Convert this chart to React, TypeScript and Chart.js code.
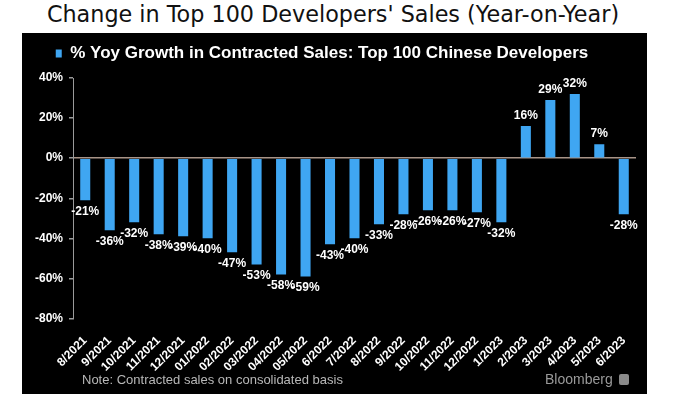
import React, { useEffect, useRef } from "react";
import { Chart, registerables } from "chart.js";

Chart.register(...registerables);

const categories = [
  "8/2021", "9/2021", "10/2021", "11/2021", "12/2021", "01/2022", "02/2022",
  "03/2022", "04/2022", "05/2022", "6/2022", "7/2022", "8/2022", "9/2022",
  "10/2022", "11/2022", "12/2022", "1/2023", "2/2023", "3/2023", "4/2023",
  "5/2023", "6/2023",
];
const yoyGrowth = [
  -21, -36, -32, -38, -39, -40, -47, -53, -58, -59, -43, -40, -33, -28,
  -26, -26, -27, -32, 16, 29, 32, 7, -28,
];
const seriesLabel = "% Yoy Growth in Contracted Sales: Top 100 Chinese Developers";
const titleText = "Change in Top 100 Developers' Sales (Year-on-Year)";
const noteText = "Note: Contracted sales on consolidated basis";

const barColor = "#3fa6f2";

const valueLabels = {
  id: "valueLabels",
  afterDatasetsDraw(chart: any) {
    const ctx = chart.ctx;
    const meta = chart.getDatasetMeta(0);
    const data = chart.data.datasets[0].data as number[];
    ctx.save();
    ctx.fillStyle = "#ffffff";
    ctx.font = "bold 12px 'Liberation Sans', Arial, sans-serif";
    ctx.textAlign = "center";
    ctx.textBaseline = "middle";
    meta.data.forEach((bar: any, i: number) => {
      const v = data[i];
      const y = v >= 0 ? bar.y - 10 : bar.y + 11;
      ctx.fillText(`${v}%`, bar.x, y);
    });
    ctx.restore();
  },
};

const legendGap = {
  id: "legendGap",
  beforeInit(chart: any) {
    const legend = chart.legend;
    if (!legend) return;
    const origFit = legend.fit;
    legend.fit = function () {
      origFit.call(this);
      this.height += 6;
    };
  },
  afterLayout(chart: any) {
    const legend = chart.legend;
    if (!legend) return;
    legend.left -= 7;
    legend.right -= 7;
  },
};

export default function App() {
  const ref = useRef<HTMLCanvasElement>(null);
  useEffect(() => {
    if (!ref.current) return;
    const chart = new Chart(ref.current, {
      type: "bar",
      data: {
        labels: categories,
        datasets: [
          {
            label: seriesLabel,
            data: yoyGrowth,
            backgroundColor: barColor,
            borderWidth: 0,
            barPercentage: 0.41,
            categoryPercentage: 1,
          },
        ],
      },
      options: {
        animation: false,
        responsive: false,
        maintainAspectRatio: false,
        layout: { padding: { left: 0, right: 11, top: 2, bottom: 0 } },
        plugins: {
          legend: {
            display: true,
            position: "top",
            labels: {
              color: "#ffffff",
              boxWidth: 6,
              boxHeight: 8,
              padding: 10,
              font: { family: "'Liberation Sans', Arial, sans-serif", size: 17, weight: "bold" },
            },
          },
          tooltip: { enabled: false },
        },
        scales: {
          x: {
            offset: true,
            grid: { display: false },
            border: { display: false },
            afterFit: (s: any) => {
              s.height = 75.5;
            },
            ticks: {
              color: "#ffffff",
              minRotation: 45,
              maxRotation: 45,
              autoSkip: false,
              padding: 7,
              font: { family: "'Liberation Sans', Arial, sans-serif", size: 12, weight: "bold" },
            },
          },
          y: {
            min: -80,
            max: 40,
            afterFit: (s: any) => {
              s.width = 51;
            },
            border: { display: true, color: "#9a9a9a", width: 1 },
            grid: {
              drawOnChartArea: true,
              color: (c: any) => (c.tick && c.tick.value === 0 ? "#a89488" : "rgba(0,0,0,0)"),
              tickColor: "#9a9a9a",
              tickLength: 4,
              lineWidth: 1.5,
            },
            ticks: {
              stepSize: 20,
              color: "#ffffff",
              padding: 6,
              font: { family: "'Liberation Sans', Arial, sans-serif", size: 12, weight: "bold" },
              callback: (v: any) => `${v}%`,
            },
          },
        },
      },
      plugins: [valueLabels, legendGap],
    });
    return () => chart.destroy();
  }, []);

  return (
    <div
      style={{
        position: "absolute",
        left: 0,
        top: 0,
        width: 700,
        height: 394,
        background: "#ffffff",
        overflow: "hidden",
      }}
    >
      <div
        style={{
          position: "absolute",
          left: 0,
          top: 1,
          width: 666,
          textAlign: "center",
          fontFamily: "'DejaVu Sans', sans-serif",
          fontSize: 22.3,
          color: "#111",
          whiteSpace: "nowrap",
        }}
      >
        {titleText}
      </div>
      <div
        style={{
          position: "absolute",
          left: 22,
          top: 33,
          width: 625,
          height: 361,
          background: "#000000",
        }}
      >
        <canvas ref={ref} width={625} height={361} style={{ display: "block" }} />
        <div
          style={{
            position: "absolute",
            left: 60,
            top: 339,
            fontFamily: "'Liberation Sans', Arial, sans-serif",
            fontSize: 13,
            color: "#b8b8b8",
            whiteSpace: "nowrap",
          }}
        >
          {noteText}
        </div>
        <div
          style={{
            position: "absolute",
            left: 523,
            top: 338,
            fontFamily: "'Liberation Sans', Arial, sans-serif",
            fontSize: 14,
            color: "#9a9a9a",
            whiteSpace: "nowrap",
            display: "flex",
            alignItems: "center",
          }}
        >
          Bloomberg
          <span
            style={{
              display: "inline-block",
              width: 10,
              height: 11,
              marginLeft: 6,
              background: "#8a8a8a",
              borderRadius: 2,
            }}
          />
        </div>
      </div>
    </div>
  );
}
